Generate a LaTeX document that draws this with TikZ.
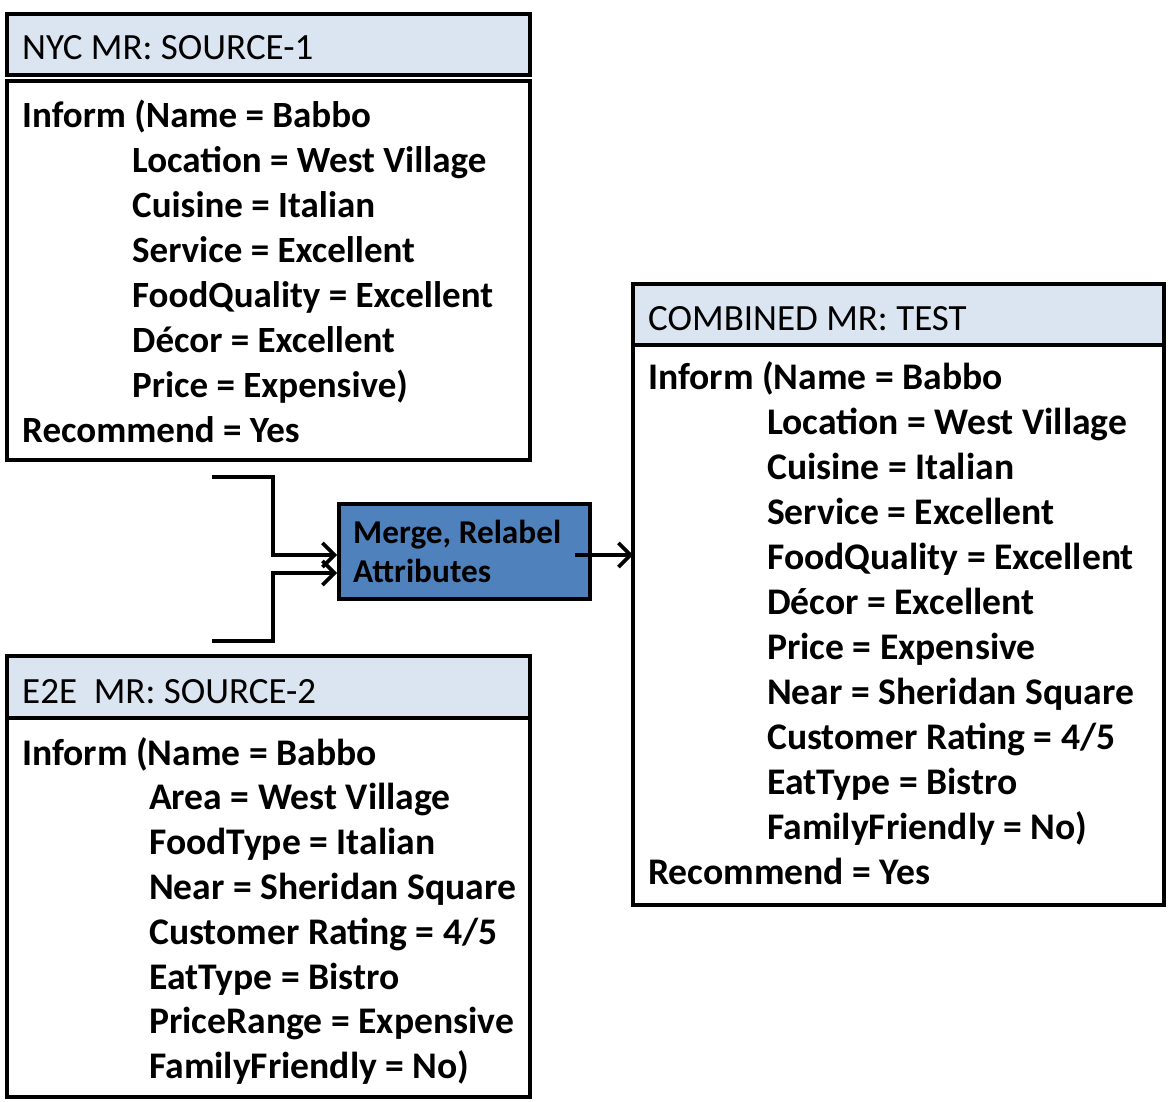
\documentclass[tikz,border=0pt]{standalone}
\usepackage{fontspec}
\setmainfont{Carlito}
\usetikzlibrary{arrows.meta}
\definecolor{hdrblue}{RGB}{219,229,241}
\definecolor{mergeblue}{RGB}{79,129,189}
\tikzset{
  boxline/.style={draw=black,line width=3.6pt},
  hdrbox/.style={boxline,fill=hdrblue},
  bodybox/.style={boxline,fill=white},
  mergebox/.style={boxline,fill=mergeblue},
  hdrtext/.style={anchor=base west,inner sep=0pt,font=\fontsize{37}{45}\selectfont},
  bodytext/.style={anchor=base west,inner sep=0pt,font=\fontsize{37}{45}\selectfont\bfseries},
  widetext/.style={anchor=base west,inner sep=0pt,font=\fontsize{37.6}{45}\selectfont\bfseries},
  mergetext/.style={anchor=base west,inner sep=0pt,font=\fontsize{33.3}{40}\selectfont\bfseries},
  conn/.style={draw=black,line width=3.6pt,-{Straight Barb[length=12pt,width=24pt,line width=3.6pt]}},
}
\begin{document}
\begin{tikzpicture}[x=1pt,y=-1pt]
\useasboundingbox (0,0) rectangle (1170,1102);
% box 1
\draw[hdrbox] (7,14) rectangle (530,75);
\draw[bodybox] (7,81) rectangle (530,460);
\node[hdrtext] (h1) at (22,60) {NYC MR: SOURCE-1};
\node[bodytext] (a1) at (22,128) {Inform (Name = Babbo};
\foreach \t [count=\i from 2] in {Location = West Village,Cuisine = Italian,Service = Excellent,FoodQuality = Excellent,Décor = Excellent,Price = Expensive)}
  \node[bodytext] (a\i) at (132,{128+44.9*(\i-1)}) {\t};
\node[bodytext] (a8) at (22,{128+44.9*7}) {Recommend = Yes};
% box 2
\draw[hdrbox] (7,656) rectangle (530,718);
\draw[bodybox] (7,718) rectangle (530,1097);
\node[hdrtext] (h2) at (22,703) {E2E\ \ MR: SOURCE-2};
\node[widetext] (b1) at (22,765) {Inform (Name = Babbo};
\foreach \t [count=\i from 2] in {Area = West Village,FoodType = Italian,Near = Sheridan Square,Customer Rating = 4/5,EatType = Bistro,PriceRange = Expensive,FamilyFriendly = No)}
  \node[widetext] (b\i) at (149,{765+44.8*(\i-1)}) {\t};
% box 3
\draw[hdrbox] (633,284) rectangle (1164,345);
\draw[bodybox] (633,345) rectangle (1164,905);
\node[hdrtext] (h3) at (648,330) {COMBINED MR: TEST};
\node[widetext] (c1) at (648,389) {Inform (Name = Babbo};
\foreach \t [count=\i from 2] in {Location = West Village,Cuisine = Italian,Service = Excellent,FoodQuality = Excellent,Décor = Excellent,Price = Expensive,Near = Sheridan Square,Customer Rating = 4/5,EatType = Bistro,FamilyFriendly = No)}
  \node[widetext] (c\i) at (767,{389+45*(\i-1)}) {\t};
\node[widetext] (c12) at (648,{389+45*11}) {Recommend = Yes};
% merge box
\node[mergebox,minimum width=251pt,minimum height=95pt,inner sep=0pt,anchor=north west] (merge) at (337,502) {};
\node[mergetext] (m1) at (353,543) {Merge, Relabel};
\node[mergetext] (m2) at (353,582) {Attributes};
% connectors
\coordinate (s1) at (212,477);
\coordinate (s2) at (212,641);
\coordinate (mo) at (575,555);
\draw[conn] (s1) -| (273,555) -- (merge.west |- 0,555);
\draw[conn] (s2) -| (273,573) -- (merge.west |- 0,573);
\draw[conn] (mo) -- (633,555);
\end{tikzpicture}
\end{document}
